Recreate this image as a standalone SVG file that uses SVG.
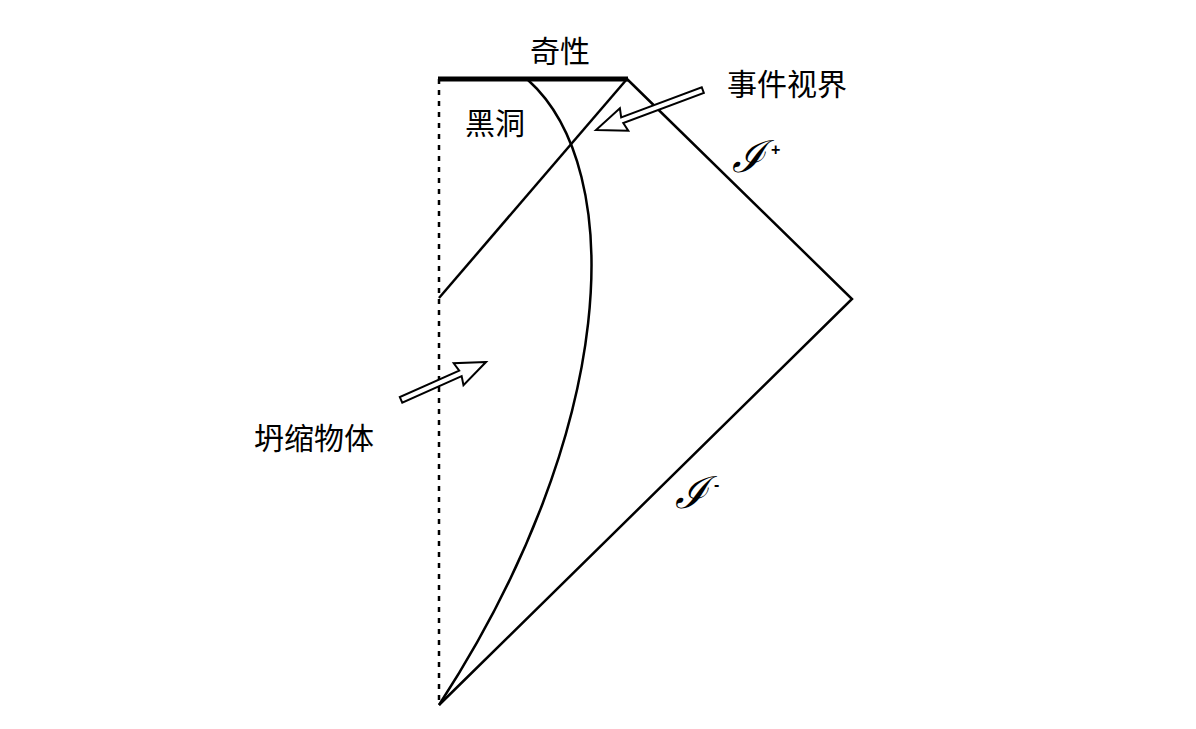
<svg xmlns="http://www.w3.org/2000/svg" width="1196" height="729" viewBox="0 0 1196 729">
<style>
.ln{fill:none;stroke:#000;stroke-width:2.5}
.lbl{font-family:"Noto Sans CJK SC","Liberation Sans",sans-serif;font-size:30px;fill:#000}
.scr{font-family:"DejaVu Serif","Liberation Serif",serif;font-style:italic;font-size:44px;fill:#000}
.sup{font-family:"Liberation Sans",sans-serif;font-size:16px;font-weight:bold;fill:#000}
.arr{fill:#fff;stroke:#000;stroke-width:2}
</style>
<rect width="1196" height="729" fill="#fff"/>
<g id="connectors">
<line class="ln" x1="439" y1="79" x2="439" y2="705" stroke-dasharray="5,6"/>
<line x1="438" y1="79" x2="628" y2="79" stroke="#000" stroke-width="5"/>
<polyline class="ln" points="627,79 852,299 439,705"/>
<line class="ln" x1="439" y1="298" x2="627" y2="79"/>
<path class="ln" d="M528,80 C628,170 618,430 439,705"/>
</g>
<g id="arrow-horizon" transform="translate(596,130) rotate(159.5)">
<polygon class="arr" points="0,0 -30,-12 -28,-3 -114,-3 -114,3 -28,3 -30,12"/>
</g>
<g id="arrow-collapse" transform="translate(486,362) rotate(-24)">
<polygon class="arr" points="0,0 -30,-12 -28,-3 -93,-3 -93,3 -28,3 -30,12"/>
</g>
<g id="singularity"><text class="lbl" x="560" y="62" text-anchor="middle">奇性</text></g>
<g id="blackhole"><text class="lbl" x="495" y="134" text-anchor="middle">黑洞</text></g>
<g id="horizon"><text class="lbl" x="787" y="95" text-anchor="middle">事件视界</text></g>
<g id="collapsing"><text class="lbl" x="314" y="449" text-anchor="middle">坍缩物体</text></g>
<g id="scri-plus"><text class="scr" x="732" y="172">ℐ</text><text class="sup" x="771" y="155">+</text></g>
<g id="scri-minus"><text class="scr" x="675" y="508">ℐ</text><text class="sup" x="714" y="490">-</text></g>
</svg>
